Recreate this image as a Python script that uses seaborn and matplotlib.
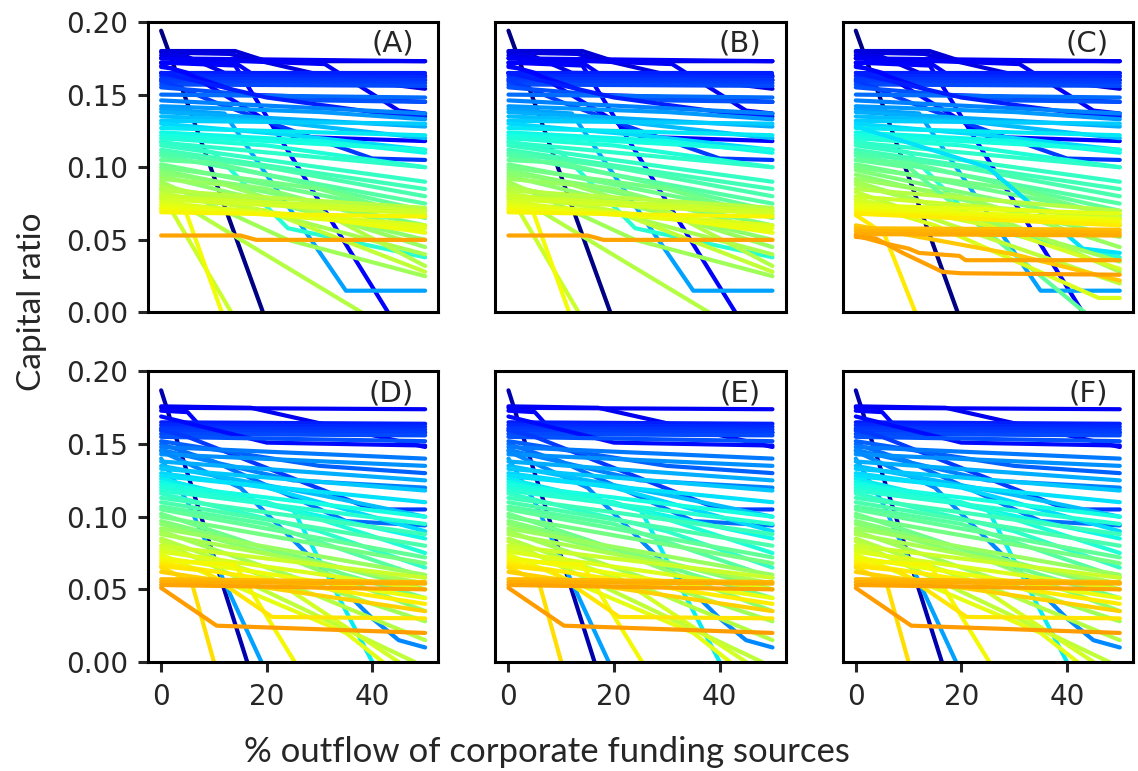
import numpy as np
import pandas as pd
import matplotlib

matplotlib.use("Agg")
import matplotlib.pyplot as plt
import seaborn as sns

# Each bank path is a list of (outflow %, capital ratio) knots.
# Upper part of the top row -- shared by panels A, B and C
top_upper = [
    [(0, .194), (19.3, 0)],
    [(0, .180), (14, .180), (20, .173), (50, .173)],
    [(0, .175), (50, .173)],
    [(0, .179), (13, .178), (32, .162), (50, .154)],
    [(0, .177), (5, .176), (12, .165), (50, .163)],
    [(0, .172), (14, .172), (19, .160), (50, .160)],
    [(0, .175), (31, .171), (45, .139), (50, .137)],
    [(0, .172), (14, .170), (43, 0)],
    [(0, .165), (50, .165)],
    [(0, .163), (50, .162)],
    [(0, .161), (50, .160)],
    [(0, .159), (50, .158)],
    [(0, .157), (50, .156)],
    [(0, .169), (2, .168), (16, .150), (32, .148), (50, .145)],
    [(0, .170), (5, .165), (25, .121), (50, .118)],
    [(0, .160), (10, .145), (25, .125), (40, .106), (50, .105)],
    [(0, .155), (10, .152), (30, .146), (50, .145)],
    [(0, .150), (50, .148)],
    [(0, .165), (20, .148), (40, .138), (50, .135)],
    [(0, .146), (50, .137)],
    [(0, .142), (30, .138), (50, .133)],
    [(0, .140), (12, .137), (35, .015), (50, .015)],
    [(0, .138), (50, .128)],
    [(0, .135), (20, .132), (50, .120)],
    [(0, .132), (50, .130)],
    [(0, .130), (25, .122), (50, .112)],
    [(0, .127), (50, .122)],
    [(0, .124), (30, .118), (50, .110)],
    [(0, .122), (50, .112)],
    [(0, .120), (20, .115), (50, .100)],
    [(0, .118), (10, .110), (24, .058), (50, .038)],
    [(0, .117), (50, .100)],
    [(0, .115), (40, .095), (50, .090)],
    [(0, .112), (50, .085)],
    [(0, .110), (20, .100), (50, .080)],
    [(0, .108), (50, .075)],
    [(0, .105), (10, .103), (50, .070)],
    [(0, .102), (50, .067)],
    [(0, .100), (30, .085), (50, .065)],
]

# Lower part of panels A and B
top_low_ab = [
    [(0, .098), (50, .060)],
    [(0, .096), (20, .085), (50, .055)],
    [(0, .094), (50, .050)],
    [(0, .092), (12, .088), (50, .045)],
    [(0, .090), (24, .050), (50, .025)],
    [(0, .088), (50, .040)],
    [(0, .086), (30, .070), (50, .032)],
    [(0, .085), (6, .070), (38, 0)],
    [(0, .084), (50, .072)],
    [(0, .082), (20, .070), (50, .028)],
    [(0, .080), (50, .070)],
    [(0, .078), (50, .068)],
    [(0, .080), (2, .070), (13.3, 0)],
    [(0, .076), (10, .072), (50, .060)],
    [(0, .074), (50, .058)],
    [(0, .072), (30, .065), (50, .055)],
    [(0, .071), (4.7, .069), (11.5, 0)],
    [(0, .069), (50, .066)],
    [(0, .053), (15, .053), (18, .050), (50, .050)],
]

# Lower part of panel C
top_low_c = [
    [(0, .128), (25, .100), (43, .044), (50, .041)],
    [(0, .098), (50, .060)],
    [(0, .095), (50, .052)],
    [(0, .092), (20, .080), (50, .045)],
    [(0, .090), (50, .035)],
    [(0, .088), (30, .060), (50, .028)],
    [(0, .105), (10, .100), (43.4, 0)],
    [(0, .085), (50, .070)],
    [(0, .083), (50, .020)],
    [(0, .080), (50, .065)],
    [(0, .078), (25, .060), (50, .030)],
    [(0, .076), (15, .060), (46, .010), (50, .010)],
    [(0, .074), (50, .068)],
    [(0, .072), (50, .064)],
    [(0, .070), (50, .062)],
    [(0, .068), (50, .060)],
    [(0, .067), (3, .060), (5.5, .053), (11.3, 0)],
    [(0, .060), (30, .040), (50, .022)],
    [(0, .058), (50, .057)],
    [(0, .056), (50, .055)],
    [(0, .054), (50, .053)],
    [(0, .053), (5, .048), (10, .044), (12, .041), (19.6, .039), (20.8, .036), (50, .036)],
    [(0, .052), (3.8, .051), (8.9, .041), (16.4, .028), (20, .027), (50, .026)],
]

# Bottom row -- panels D, E and F look the same
bottom_banks = [
    [(0, .187), (16.3, 0)],
    [(0, .176), (17, .175), (50, .148)],
    [(0, .175), (50, .174)],
    [(0, .173), (5, .172), (8, .160), (50, .158)],
    [(0, .165), (50, .164)],
    [(0, .163), (50, .162)],
    [(0, .161), (50, .160)],
    [(0, .159), (50, .158)],
    [(0, .157), (50, .156)],
    [(0, .169), (20, .151), (50, .149)],
    [(0, .155), (50, .152)],
    [(0, .160), (5, .155), (40, .105), (50, .105)],
    [(0, .150), (10, .138), (35, .097), (50, .094)],
    [(0, .152), (30, .135), (50, .130)],
    [(0, .148), (50, .140)],
    [(0, .146), (25, .125), (50, .120)],
    [(0, .143), (50, .135)],
    [(0, .140), (5, .110), (19, 0)],
    [(0, .145), (15, .120), (40, .030), (45, .015), (50, .010)],
    [(0, .138), (50, .125)],
    [(0, .135), (30, .115), (50, .100)],
    [(0, .133), (50, .118)],
    [(0, .130), (20, .120), (50, .090)],
    [(0, .128), (50, .110)],
    [(0, .126), (25, .105), (40, 0)],
    [(0, .124), (50, .085)],
    [(0, .122), (50, .100)],
    [(0, .120), (20, .110), (50, .075)],
    [(0, .118), (50, .095)],
    [(0, .116), (30, .090), (50, .065)],
    [(0, .113), (50, .088)],
    [(0, .110), (50, .080)],
    [(0, .107), (20, .095), (50, .058)],
    [(0, .105), (50, .072)],
    [(0, .102), (35, .060), (50, .044)],
    [(0, .100), (50, .068)],
    [(0, .097), (50, .050)],
    [(0, .095), (25, .070), (50, .035)],
    [(0, .092), (50, .060)],
    [(0, .090), (40, .040), (50, .028)],
    [(0, .088), (50, .054)],
    [(0, .085), (30, .045), (50, .015)],
    [(0, .083), (48, 0)],
    [(0, .080), (50, .058)],
    [(0, .078), (20, .060), (45, 0)],
    [(0, .076), (50, .050)],
    [(0, .074), (35, .020), (42, 0)],
    [(0, .072), (50, .044)],
    [(0, .070), (14, .067), (25.3, 0)],
    [(0, .068), (50, .040)],
    [(0, .066), (8, .063), (21, .031), (50, .030)],
    [(0, .065), (3, .060), (6, .052), (10, 0)],
    [(0, .062), (50, .035)],
    [(0, .057), (50, .055)],
    [(0, .055), (50, .054)],
    [(0, .053), (50, .050)],
    [(0, .051), (10.5, .025), (50, .020)],
]

panel_names = ["A", "B", "C", "D", "E", "F"]
panel_banks = [
    top_upper + top_low_ab,
    top_upper + top_low_ab,
    top_upper + top_low_c,
    bottom_banks,
    bottom_banks,
    bottom_banks,
]
x_ticks = [0, 20, 40]
y_ticks = [0.00, 0.05, 0.10, 0.15, 0.20]


def bank_colour(start_ratio):
    # jet colour scale: high starting capital ratio -> dark blue, low -> orange
    return plt.cm.jet(np.clip((0.195 - start_ratio) / 0.145 * 0.75, 0, 1))


# Long table: one row per knot
rows = []
for name, banks in zip(panel_names, panel_banks):
    for i, knots in enumerate(banks):
        for outflow, ratio in knots:
            rows.append({"panel": name, "bank": f"{name}{i:02d}",
                         "outflow": outflow, "ratio": ratio})
df = pd.DataFrame(rows)

sns.set_style("ticks")
plt.rcParams["font.family"] = ["DejaVu Sans"]

fig, axes = plt.subplots(2, 3, figsize=(11.38, 7.71), dpi=100)
fig.subplots_adjust(left=0.130, right=0.9956, bottom=0.1414, top=0.9715,
                    wspace=0.196, hspace=0.203)

for k, (ax, name, banks) in enumerate(zip(axes.flat, panel_names, panel_banks)):
    sub = df[df["panel"] == name]
    order = [f"{name}{i:02d}" for i in range(len(banks))]
    palette = {f"{name}{i:02d}": bank_colour(b[0][1]) for i, b in enumerate(banks)}
    sns.lineplot(data=sub, x="outflow", y="ratio", hue="bank", hue_order=order,
                 palette=palette, estimator=None, sort=False, legend=False,
                 linewidth=3.0, ax=ax)

    ax.set_xlim(-2.5, 52.5)
    ax.set_ylim(0, 0.2)
    ax.set_xticks(x_ticks)
    ax.set_yticks(y_ticks)
    ax.set_xlabel("")
    ax.set_ylabel("")
    for s in ax.spines.values():
        s.set_linewidth(2.2)
        s.set_color("black")
    ax.tick_params(length=7, width=2.2, labelsize=20)
    ax.tick_params(axis="x", pad=8)
    ax.tick_params(axis="y", pad=7)
    if k < 3:
        ax.tick_params(bottom=False, labelbottom=False)
    if k % 3 != 0:
        ax.tick_params(left=False, labelleft=False)
    ax.text(0.915, 0.925, f"({name})", transform=ax.transAxes,
            ha="right", va="center", fontsize=21)

fig.text(547 / 1138, 1 - 752 / 771, "% outflow of corporate funding sources",
         ha="center", va="center", fontsize=25, family=["Lato", "DejaVu Sans"])
fig.text(32 / 1138, 1 - 302 / 771, "Capital ratio", rotation=90,
         ha="center", va="center", fontsize=24, family=["Lato", "DejaVu Sans"])

fig.savefig("out.png", dpi=100)
